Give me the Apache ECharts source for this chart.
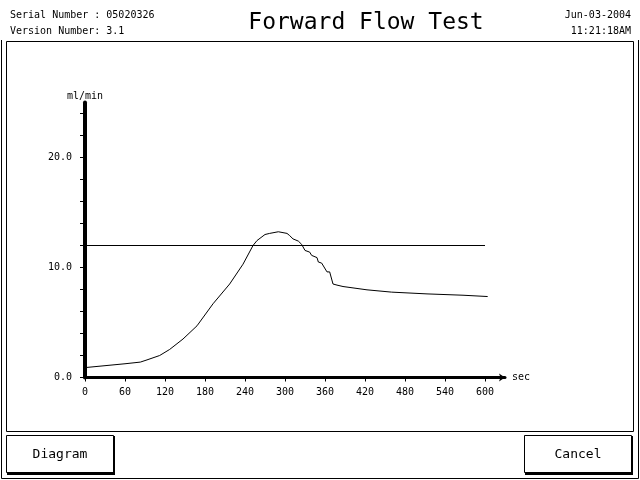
<!DOCTYPE html>
<html>
<head>
<meta charset="utf-8">
<script src="https://cdn.jsdelivr.net/npm/echarts@6/dist/echarts.min.js"></script>
<style>html,body{margin:0;padding:0;background:#fff;}#c{width:640px;height:480px;}</style>
</head>
<body>
<div id="c"></div>
<script>
var times = [0, 60, 83, 93, 112, 127, 147, 168, 192, 217, 237, 252, 258, 270, 277, 290, 303, 307, 312, 320, 325, 330, 337, 340, 348, 350, 355, 363, 367, 372, 378, 387, 423, 460, 513, 567, 604];
var flows = [0.9, 1.25, 1.4, 1.6, 2.0, 2.55, 3.5, 4.7, 6.7, 8.5, 10.3, 12.0, 12.45, 13.0, 13.1, 13.25, 13.1, 12.9, 12.6, 12.4, 12.1, 11.55, 11.4, 11.1, 10.9, 10.5, 10.4, 9.6, 9.6, 8.5, 8.4, 8.27, 7.97, 7.76, 7.6, 7.48, 7.36];
var thresholdValue = 12.0;
var thresholdRange = [0, 600];
var xTicks = [0, 60, 120, 180, 240, 300, 360, 420, 480, 540, 600];
var yTicks = [0, 2, 4, 6, 8, 10, 12, 14, 16, 18, 20, 22, 24];
var yLabels = [0, 10, 20];
var title = 'Forward Flow Test';
var serialText = 'Serial Number : 05020326';
var versionText = 'Version Number: 3.1';
var dateText = 'Jun-03-2004';
var timeText = '11:21:18AM';
var buttons = ['Diagram', 'Cancel'];

var mono = '"DejaVu Sans Mono", "Liberation Mono", monospace';
var flowData = times.map(function (t, i) { return [t, flows[i]]; });
var thrData = thresholdRange.map(function (t) { return [t, thresholdValue]; });

var chart = echarts.init(document.getElementById('c'), null, {renderer: 'canvas'});
chart.setOption({
  backgroundColor: '#fff',
  animation: false,
  grid: {left: 85, top: 102.5, width: 420, height: 275, containLabel: false},
  xAxis: {
    type: 'value', min: 0, max: 630, interval: 60,
    name: 'sec', nameLocation: 'end', nameGap: 7,
    nameTextStyle: {fontFamily: mono, fontSize: 10, color: '#000', verticalAlign: 'middle'},
    axisLine: {show: true, lineStyle: {color: '#000', width: 3}, symbol: ['none', 'arrow'], symbolSize: [6, 6]},
    axisTick: {show: true, length: 4, lineStyle: {color: '#000', width: 1}, customValues: xTicks},
    axisLabel: {show: true, customValues: xTicks, fontFamily: mono, fontSize: 10, color: '#000', margin: 10},
    splitLine: {show: false}
  },
  yAxis: {
    type: 'value', min: 0, max: 25, interval: 2,
    name: 'ml/min', nameLocation: 'end', nameGap: 1,
    nameTextStyle: {fontFamily: mono, fontSize: 10, color: '#000', align: 'center'},
    axisLine: {show: true, lineStyle: {color: '#000', width: 4}},
    axisTick: {show: true, length: 5, lineStyle: {color: '#000', width: 1}, customValues: yTicks},
    axisLabel: {show: true, customValues: yLabels, fontFamily: mono, fontSize: 10, color: '#000', margin: 13,
      formatter: function (v) { return Number(v).toFixed(1); }},
    splitLine: {show: false}
  },
  series: [
    {type: 'line', data: thrData, symbol: 'none', lineStyle: {color: '#000', width: 1}, z: 2},
    {type: 'line', data: flowData, symbol: 'none', smooth: false, lineStyle: {color: '#000', width: 1}, z: 3}
  ],
  graphic: [
    {type: 'polyline', shape: {points: [[1.5, 40], [1.5, 478.5], [638.5, 478.5], [638.5, 40]]}, style: {stroke: '#000', lineWidth: 1, fill: null}},
    {type: 'rect', shape: {x: 6.5, y: 41.5, width: 627, height: 390}, style: {stroke: '#000', lineWidth: 1, fill: null}},
    {type: 'rect', shape: {x: 6.5, y: 435.5, width: 107, height: 37}, style: {stroke: '#000', lineWidth: 1, fill: '#fff'}},
    {type: 'polyline', shape: {points: [[114, 436], [114, 474], [7, 474]]}, style: {stroke: '#000', lineWidth: 2, fill: null}},
    {type: 'rect', shape: {x: 524.5, y: 435.5, width: 107, height: 37}, style: {stroke: '#000', lineWidth: 1, fill: '#fff'}},
    {type: 'polyline', shape: {points: [[632, 436], [632, 474], [525, 474]]}, style: {stroke: '#000', lineWidth: 2, fill: null}},
    {type: 'text', x: 60, y: 455, style: {text: buttons[0], font: '13px ' + mono, fill: '#000', align: 'center', verticalAlign: 'middle'}},
    {type: 'text', x: 578, y: 455, style: {text: buttons[1], font: '13px ' + mono, fill: '#000', align: 'center', verticalAlign: 'middle'}},
    {type: 'text', x: 366, y: 23, style: {text: title, font: '23px ' + mono, fill: '#000', align: 'center', verticalAlign: 'middle'}},
    {type: 'text', x: 10, y: 15, style: {text: serialText, font: '10px ' + mono, fill: '#000', align: 'left', verticalAlign: 'middle'}},
    {type: 'text', x: 10, y: 31, style: {text: versionText, font: '10px ' + mono, fill: '#000', align: 'left', verticalAlign: 'middle'}},
    {type: 'text', x: 631, y: 15, style: {text: dateText, font: '10px ' + mono, fill: '#000', align: 'right', verticalAlign: 'middle'}},
    {type: 'text', x: 631, y: 31, style: {text: timeText, font: '10px ' + mono, fill: '#000', align: 'right', verticalAlign: 'middle'}}
  ]
});
</script>
</body>
</html>
